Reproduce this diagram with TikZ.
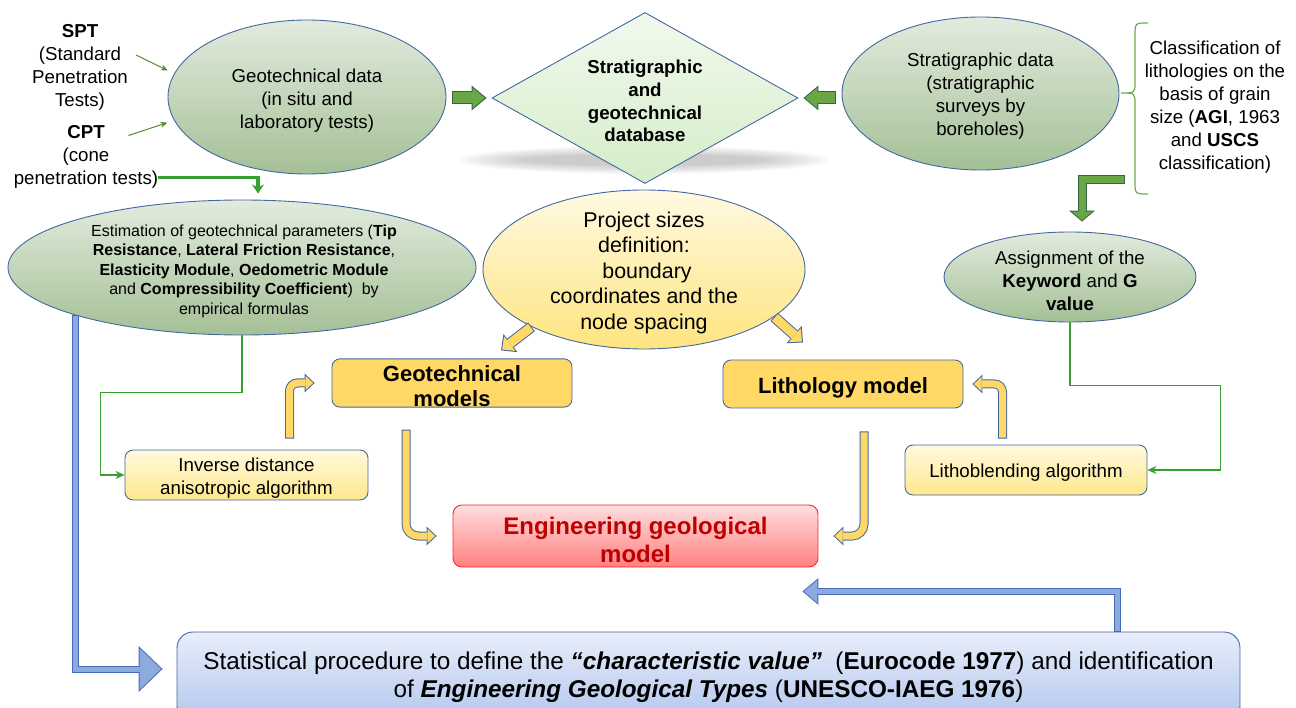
\documentclass[tikz,border=0pt]{standalone}
\usepackage{fontspec}
\setmainfont{Liberation Sans}
\usetikzlibrary{shapes,arrows.meta,positioning,calc}
\newcommand{\boxlift}{\rule{0pt}{1.05em}}

\begin{document}
\begin{tikzpicture}[x=1pt, y=-1pt,
    every node/.style={font=\fontsize{18.7}{23}\selectfont, align=center, inner sep=0pt},
    gcloud/.style={ellipse, draw=edgeblue, line width=0.9pt, top color=gtop, bottom color=gbot},
    ycloud/.style={ellipse, draw=edgeblue, line width=0.9pt, top color=ptop, bottom color=pbot},
    goldbox/.style={rectangle, rounded corners=8pt, draw=edgeblue, line width=0.9pt, fill=ygold, minimum width=240pt, minimum height=48pt, font=\fontsize{22}{25}\selectfont\bfseries},
    algbox/.style={rectangle, rounded corners=8pt, draw=edgeblue, line width=0.9pt, top color=ltop, bottom color=lbot, minimum height=50pt},
    gline/.style={draw=lgreen, line width=1.6pt, -{Stealth[length=9pt, width=8pt]}},
    oline/.style={draw=olive, line width=1pt, shorten >=7pt, -{Stealth[length=7pt, width=6pt]}},
    garrow/.style={draw=gdark, line width=13pt, -{Triangle[length=15pt, width=25pt, line width=0pt]},
        postaction={draw=gfill, line width=11pt, shorten <=1pt, shorten >=1.6pt, -{Triangle[length=12.4pt, width=20.7pt, line width=0pt]}}},
    gbend/.style={draw=gdark, line width=9pt, line join=miter, -{Triangle[length=11pt, width=26pt, line width=0pt]},
        postaction={draw=gfill, line width=7pt, shorten <=1pt, shorten >=1.3pt, -{Triangle[length=8.7pt, width=20.5pt, line width=0pt]}}},
    ybend/.style={draw=edgeblue, line width=9pt, rounded corners=8pt, -{Triangle[length=10pt, width=19pt, line width=0pt]},
        postaction={draw=ygold, line width=7pt, shorten <=1pt, shorten >=1.45pt, -{Triangle[length=7.6pt, width=14.4pt, line width=0pt]}}},
    ystraight/.style={draw=edgeblue, line width=11pt, -{Triangle[length=12pt, width=23pt, line width=0pt]},
        postaction={draw=ygold, line width=9pt, shorten <=1pt, shorten >=1.45pt, -{Triangle[length=9.6pt, width=18.4pt, line width=0pt]}}},
    barrowL/.style={draw=bline, line width=7pt, line join=miter, -{Triangle[length=24pt, width=46pt, line width=0pt]},
        postaction={draw=bfill, line width=5pt, shorten <=1pt, shorten >=1.45pt, -{Triangle[length=21.6pt, width=41.4pt, line width=0pt]}}},
    barrowR/.style={draw=bline, line width=7pt, line join=miter, -{Triangle[length=16pt, width=27pt, line width=0pt]},
        postaction={draw=bfill, line width=5pt, shorten <=1pt, shorten >=1.55pt, -{Triangle[length=13.4pt, width=22.7pt, line width=0pt]}}}]
    \definecolor{edgeblue}{RGB}{68,104,160}
    \definecolor{gtop}{RGB}{226,235,222}
    \definecolor{gbot}{RGB}{164,192,150}
    \definecolor{dtop}{RGB}{242,249,238}
    \definecolor{dbot}{RGB}{212,237,200}
    \definecolor{gfill}{RGB}{104,166,70}
    \definecolor{gdark}{RGB}{56,100,70}
    \definecolor{ygold}{RGB}{255,216,102}
    \definecolor{ltop}{RGB}{255,249,222}
    \definecolor{lbot}{RGB}{254,232,140}
    \definecolor{ptop}{RGB}{255,250,225}
    \definecolor{pbot}{RGB}{254,228,128}
    \definecolor{etop}{RGB}{255,222,222}
    \definecolor{ebot}{RGB}{255,128,128}
    \definecolor{engred}{RGB}{250,40,40}
    \definecolor{etext}{RGB}{192,0,0}
    \definecolor{sttop}{RGB}{232,238,250}
    \definecolor{stbot}{RGB}{178,198,238}
    \definecolor{bfill}{RGB}{142,170,220}
    \definecolor{bline}{RGB}{68,108,190}
    \definecolor{lgreen}{RGB}{56,160,48}
    \definecolor{olive}{RGB}{84,140,52}
    \definecolor{bracegreen}{RGB}{112,170,72}

    \useasboundingbox (0,0) rectangle (1296,708);
    \clip (0,0) rectangle (1296,708);

    % Shadow under the database diamond
    \foreach \i [evaluate=\i as \rx using 186-9*\i, evaluate=\i as \ry using 14-1.2*\i] in {0,...,7}
        \fill[black, opacity=0.028] (644,160) ellipse [x radius=\rx, y radius=\ry];

    % Sources of data
    \node (spt) at (80,67) {\textbf{SPT}\\(Standard\\Penetration\\Tests)};
    \node (cpt) at (86,156.5) {\textbf{CPT}\\(cone\\penetration tests)};

    \node[gcloud, minimum width=278pt, minimum height=154pt] (geo) at (307,97) {};
    \node (geotxt) at (307,100.5) {Geotechnical data\\(in situ and\\laboratory tests)};

    \node[diamond, aspect=1.79, draw=edgeblue, line width=0.9pt, top color=dtop, bottom color=dbot, minimum width=306pt, minimum height=171pt, font=\fontsize{18.7}{22.7}\selectfont\bfseries] (dbase) at (645,98) {\boxlift Stratigraphic\\and\\geotechnical\\database};

    \node[gcloud, minimum width=277pt, minimum height=153pt] (strat) at (980.5,93.5) {};
    \node (strattxt) at (980.5,96.5) {Stratigraphic data\\(stratigraphic\\surveys by\\boreholes)};

    \node (classtxt) at (1215,107) {Classification of\\lithologies on the\\basis of grain\\size (\textbf{AGI}, 1963\\and \textbf{USCS}\\classification)};

    % Brace for the classification
    \draw[bracegreen, line width=1.2pt] (1148,23) .. controls (1135,23) .. (1135,36) -- (1135,82)
        .. controls (1135,93) .. (1121,93) .. controls (1135,93) .. (1135,104) -- (1135,181)
        .. controls (1135,194) .. (1148,194);

    % Second row
    \node[gcloud, minimum width=468pt, minimum height=135pt] (est) at (242,267.5) {};
    \node[font=\fontsize{16}{19.5}\selectfont] (esttxt) at (244,271) {Estimation of geotechnical parameters (\textbf{Tip}\\\textbf{Resistance}, \textbf{Lateral Friction Resistance},\\\textbf{Elasticity Module}, \textbf{Oedometric Module}\\and \textbf{Compressibility Coefficient})~ by\\empirical formulas};

    \node[ycloud, minimum width=322pt, minimum height=159pt] (proj) at (644,269.5) {};
    \node[font=\fontsize{21.4}{25.5}\selectfont] (projtxt) at (644,272.5) {Project sizes\\definition:\\~boundary\\coordinates and the\\node spacing};

    \node[gcloud, minimum width=252pt, minimum height=90pt] (assign) at (1070,277) {};
    \node (assigntxt) at (1070,281) {Assignment of the\\\textbf{Keyword} and \textbf{G}\\\textbf{value}};

    % Models and algorithms
    \node[goldbox] (geom) at (452,383) {\boxlift Geotechnical\\models};
    \node[goldbox] (litho) at (843,384) {\boxlift Lithology model};
    \node[algbox, minimum width=243pt] (inv) at (246.5,475) {\boxlift Inverse distance\\anisotropic algorithm};
    \node[algbox, minimum width=242pt] (lbl) at (1026,470) {\boxlift Lithoblending algorithm};

    \node[rectangle, rounded corners=9pt, draw=engred, line width=0.9pt, top color=etop, bottom color=ebot, minimum width=365pt, minimum height=62pt, text=etext, font=\fontsize{24}{28}\selectfont\bfseries] (eng) at (635.5,536) {\boxlift Engineering geological\\model};

    \node[rectangle, rounded corners=16pt, draw=edgeblue, line width=0.9pt, top color=sttop, bottom color=stbot, minimum width=1063pt, minimum height=90pt, font=\fontsize{24.3}{28}\selectfont] (stat) at (708.5,677) {Statistical procedure to define the \textbf{\textit{“characteristic value”}}~~(\textbf{Eurocode 1977}) and identification\\of \textbf{\textit{Engineering Geological Types}} (\textbf{UNESCO-IAEG 1976})};

    % Arrows
    \draw[oline] ([shift={(8,-12)}]spt.east) -- (geo.170);
    \draw[oline] ([shift={(-30,-21)}]cpt.east) -- (geo.190);
    \draw[draw=lgreen, line width=3.5pt, shorten >=6pt, -{Stealth[length=9pt, width=12pt]}] ([yshift=-21pt]cpt.east) -| ([xshift=16pt]est.north);

    \draw[garrow] ([shift={(6,1)}]geo.east) -- ([xshift=-5pt]dbase.west);
    \draw[garrow] ([shift={(-6,4.5)}]strat.west) -- ([xshift=5pt]dbase.east);
    \draw[gbend] ([shift={(144,9.5)}]strat.south) -| ([shift={(12,-10)}]assign.north);

    \draw[ystraight] (proj.207) -- ([shift={(49,-8)}]geom.north);
    \draw[ystraight] (proj.-20) -- ([shift={(-40,-17)}]litho.north);
    \draw[ybend] ([shift={(43,-11)}]inv.north) |- ([xshift=-17pt]geom.west);
    \draw[ybend] ([shift={(-23.5,-6)}]lbl.north) |- ([xshift=9pt]litho.east);
    \draw[ybend, rounded corners=12pt] ([shift={(-46,22)}]geom.south) |- ([xshift=-16pt]eng.west);
    \draw[ybend, rounded corners=12pt] ([shift={(21,23)}]litho.south) |- ([xshift=15pt]eng.east);

    \draw[gline] (est.south) -- ++(0,57) -| ([xshift=-24pt]inv.west) -- (inv.west);
    \draw[gline] (assign.south) -- ++(0,63) -| ([xshift=73pt]lbl.east) -- (lbl.east);

    \draw[barrowL] (est.196) |- ([shift={(-14,-8)}]stat.west);
    \draw[barrowR] ([xshift=-123pt]stat.north east) |- ([shift={(-16,24)}]eng.south east);
\end{tikzpicture}
\end{document}
